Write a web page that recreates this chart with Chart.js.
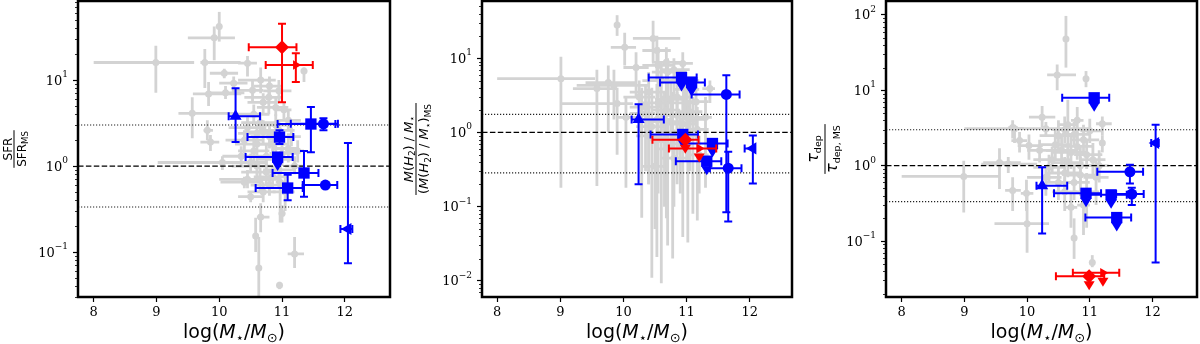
<!DOCTYPE html>
<html>
<head>
<meta charset="utf-8">
<script src="https://cdn.jsdelivr.net/npm/chart.js@4.4.1/dist/chart.umd.min.js"></script>
<style>
  body { margin: 0; background: #fff; }
  .panel { position: absolute; top: 0; width: 400px; height: 344px; }
</style>
</head>
<body>
<div class="panel" style="left:0"><canvas id="sfrChart" width="400" height="344"></canvas></div>
<div class="panel" style="left:400px"><canvas id="gasChart" width="400" height="344"></canvas></div>
<div class="panel" style="left:800px"><canvas id="tdepChart" width="400" height="344"></canvas></div>
<script>
// rows: [logM, value, logM low, logM high, value low, value high]
const xTicks = [8, 9, 10, 11, 12];

const sfrXLim = [7.75, 12.72];
const sfrYLim = [0.030, 83];
const sfrTicks = [0.1, 1, 10];
const sfrBands = [3, 1 / 3];
const sfrGray = [
  [10.0, 42, 10.0, 10.0, 28, 62], [9.92, 31, 9.5, 10.25, 17, 42], [8.99, 16, 8.0, 9.6, 7.1, 25],
  [9.77, 16, 9.7, 10.34, 8.1, 23], [10.08, 12, 9.85, 10.3, 10.5, 13.5], [9.83, 6.9, 9.58, 10.35, 5.0, 9.5],
  [9.57, 4.1, 9.35, 10.23, 2.1, 6.3], [9.81, 2.6, 9.75, 9.9, 2.0, 3.4], [9.86, 1.9, 9.7, 10.0, 1.5, 2.3],
  [10.05, 1.1, 9.02, 10.39, 0.9, 1.3], [10.66, 0.255, 10.6, 10.8, 0.17, 0.37], [10.58, 0.154, 10.55, 10.62, 0.1, 0.25],
  [10.63, 0.065, 10.6, 10.66, 0.02, 0.15], [10.96, 0.041, 10.96, 10.96, 0.037, 0.045], [11.2, 0.095, 11.09, 11.35, 0.065, 0.15],
  [11.35, 12.7, 11.3, 11.4, 9.5, 14], [11.03, 4.5, 10.9, 11.15, 3.5, 5.5], [11.0, 0.28, 10.95, 11.05, 0.22, 0.35],
  [10.45, 15.7, 10.3, 10.6, 11, 19], [10.23, 9.2, 10.0, 10.45, 7, 11], [10.53, 7.6, 10.2, 10.7, 5.5, 10],
  [10.1, 7.1, 9.85, 10.4, 6, 8.5], [10.79, 6.3, 10.4, 11.0, 4, 9], [10.66, 10, 10.3, 10.9, 7, 14],
  [10.5, 0.44, 10.3, 10.7, 0.38, 0.5], [10.4, 2.0, 10.1, 10.7, 1.4, 2.6], [10.55, 1.5, 10.3, 10.8, 1.1, 2.2],
  [10.7, 2.5, 10.4, 10.95, 1.8, 3.4], [10.85, 1.8, 10.55, 11.1, 1.2, 2.6], [10.6, 1.0, 10.2, 10.85, 0.75, 1.3],
  [10.75, 0.85, 10.35, 11.0, 0.6, 1.2], [10.9, 1.2, 10.6, 11.2, 0.8, 1.8], [10.45, 0.7, 10.0, 10.8, 0.55, 0.9],
  [10.8, 0.6, 10.5, 11.05, 0.45, 0.8], [11.1, 1.6, 10.85, 11.25, 1.1, 2.4], [11.15, 2.2, 10.95, 11.3, 1.7, 2.8],
  [10.95, 0.9, 10.7, 11.2, 0.55, 1.3], [10.35, 1.3, 10.05, 10.6, 1.0, 1.7], [11.05, 0.5, 10.85, 11.2, 0.3, 0.75],
  [10.65, 3.2, 10.35, 10.9, 2.4, 4.2], [10.9, 3.0, 10.6, 11.1, 2.2, 4.0], [11.2, 1.0, 11.05, 11.35, 0.8, 1.3],
  [10.4, 0.65, 10.02, 10.7, 0.55, 0.75], [10.97, 0.65, 10.9, 11.05, 0.22, 1.0], [10.7, 5.5, 10.45, 10.95, 4.0, 7.0],
  [10.95, 7.5, 10.7, 11.15, 5.5, 10], [10.55, 4.0, 10.2, 10.8, 3.0, 5.2], [11.1, 3.4, 10.9, 11.3, 2.6, 4.5],
  [10.6, 1.8, 10.25, 10.9, 1.3, 2.4], [10.75, 1.3, 10.5, 11.05, 0.95, 1.8], [10.5, 1.1, 10.15, 10.75, 0.85, 1.4],
  [10.85, 0.75, 10.55, 11.1, 0.55, 1.0], [10.65, 0.7, 10.4, 10.95, 0.5, 0.95], [11.0, 1.4, 10.8, 11.25, 1.0, 2.0],
  [10.8, 2.2, 10.5, 11.05, 1.6, 3.0], [10.45, 2.8, 10.15, 10.75, 2.1, 3.7], [10.95, 2.6, 10.7, 11.2, 2.0, 3.4],
  [10.7, 0.5, 10.45, 10.9, 0.38, 0.65], [10.6, 2.4, 10.3, 10.85, 1.9, 3.0], [11.25, 1.5, 11.05, 11.35, 1.1, 2.0],
  [10.9, 4.8, 10.6, 11.1, 3.8, 6.2], [10.8, 8.5, 10.55, 11.0, 6.5, 11]
];
const sfrBlue = [
  [10.26, 3.8, 10.15, 10.65, 1.9, 8.0], [10.96, 2.17, 10.45, 11.18, 1.8, 2.6], [10.93, 1.27, 10.42, 11.17, 1.27, 1.27],
  [11.46, 3.08, 10.93, 11.85, 1.45, 4.85], [11.66, 3.1, 11.14, 11.89, 2.6, 3.6], [11.35, 0.83, 10.85, 11.58, 0.44, 1.5],
  [11.09, 0.555, 10.58, 11.33, 0.40, 0.79], [11.69, 0.60, 11.33, 11.88, 0.6, 0.6], [12.05, 0.185, 11.93, 12.12, 0.074, 1.85]
];
const sfrBlueShape = ['triUp', 'square', 'square', 'square', 'circle', 'square', 'square', 'circle', 'triLeft'];
const sfrBlueLimit = [0, 0, 1, 0, 0, 0, 0, 0, 0];
const sfrRed = [[11.0, 24, 10.47, 11.23, 5.5, 45], [11.22, 15, 10.74, 11.49, 9.5, 20.5]];
const sfrRedShape = ['diamond', 'triRight'];
const sfrRedLimit = [0, 0];

const gasXLim = [7.76, 12.67];
const gasYLim = [0.00607, 59];
const gasTicks = [0.01, 0.1, 1, 10];
const gasBands = [1.75, 0.285];
const gasGray = [
  [9.01, 5.3, 8.0, 9.55, 0.18, 10.5], [9.9, 28, 9.9, 9.9, 20, 38], [10.02, 14, 9.8, 10.2, 8, 22],
  [10.47, 18.5, 10.15, 10.9, 9, 32], [10.53, 12.7, 10.3, 10.75, 5, 20], [10.68, 8.8, 10.45, 10.9, 3, 14],
  [10.2, 7.5, 10.0, 10.4, 3, 12], [10.94, 8.5, 10.8, 11.1, 4, 12], [9.58, 3.9, 9.2, 9.9, 0.19, 7],
  [9.76, 4.7, 9.4, 10.2, 1.0, 8], [11.37, 3.9, 11.25, 11.45, 2.5, 5], [9.9, 2.45, 9.0, 10.15, 0.5, 4],
  [9.85, 4.3, 9.26, 10.42, 1.5, 7], [10.45, 1.2, 10.2, 10.7, 0.011, 4], [10.6, 0.8, 10.4, 10.85, 0.0093, 3],
  [10.53, 1.5, 10.3, 10.8, 0.021, 4.5], [10.78, 1.0, 10.55, 11.0, 0.02, 3.5], [10.94, 1.3, 10.7, 11.15, 0.039, 3],
  [11.02, 0.9, 10.8, 11.2, 0.033, 2.5], [10.29, 1.8, 10.1, 10.5, 0.071, 4], [10.68, 2.0, 10.45, 10.9, 0.07, 5],
  [11.1, 1.5, 10.9, 11.3, 0.08, 3], [11.17, 1.1, 11.0, 11.35, 0.065, 2.2], [11.3, 1.6, 11.15, 11.4, 0.18, 3],
  [10.04, 1.6, 9.9, 10.3, 0.18, 3], [10.85, 3.0, 10.6, 11.1, 0.5, 6], [10.6, 5.0, 10.3, 10.9, 1, 9],
  [10.4, 3.5, 10.1, 10.7, 0.2, 6.5], [11.0, 2.5, 10.75, 11.2, 0.4, 4], [10.8, 0.45, 10.6, 11.05, 0.1, 1.0],
  [10.5, 0.35, 10.3, 10.7, 0.05, 0.9], [11.2, 0.5, 11.05, 11.35, 0.15, 0.9], [10.7, 6.5, 10.45, 11.0, 2, 10],
  [10.95, 5, 10.75, 11.2, 1.5, 7],
  [10.35, 2.2, 10.1, 10.6, 0.3, 4.5], [10.65, 1.4, 10.4, 10.9, 0.1, 3.5], [10.85, 1.7, 10.6, 11.1, 0.2, 3.5],
  [11.05, 1.9, 10.85, 11.25, 0.3, 3.5], [10.75, 2.8, 10.5, 11.0, 0.6, 5], [10.55, 2.5, 10.3, 10.8, 0.15, 5],
  [11.15, 2.6, 10.95, 11.35, 0.8, 4], [10.9, 0.7, 10.7, 11.1, 0.15, 1.8], [10.7, 0.6, 10.5, 10.95, 0.03, 1.5],
  [10.4, 0.9, 10.2, 10.6, 0.2, 2.5], [10.25, 3.0, 10.0, 10.5, 1.0, 5], [10.55, 8.0, 10.3, 10.8, 3, 14],
  [10.8, 7.0, 10.6, 11.05, 3, 10], [10.97, 3.8, 10.8, 11.2, 1.5, 6]
];
const gasBlue = [
  [10.92, 5.5, 10.4, 11.16, 5.5, 5.5], [11.08, 4.7, 10.58, 11.29, 4.7, 4.7], [11.63, 3.25, 11.08, 11.84, 0.084, 5.9],
  [10.24, 1.5, 10.13, 10.64, 0.2, 2.4], [10.94, 0.94, 10.43, 11.18, 0.94, 0.94], [11.41, 0.71, 10.97, 11.65, 0.71, 0.71],
  [11.32, 0.41, 10.83, 11.55, 0.41, 0.41], [11.66, 0.33, 11.37, 11.87, 0.063, 0.55], [12.05, 0.61, 11.92, 12.08, 0.205, 0.91]
];
const gasBlueShape = ['square', 'square', 'circle', 'triUp', 'square', 'square', 'square', 'circle', 'triLeft'];
const gasBlueLimit = [1, 1, 0, 0, 1, 1, 1, 0, 0];
const gasRed = [[10.98, 0.8, 10.46, 11.19, 0.8, 0.8], [11.2, 0.61, 10.72, 11.47, 0.61, 0.61]];
const gasRedShape = ['diamond', 'triRight'];
const gasRedLimit = [1, 1];

const tdepXLim = [7.75, 12.71];
const tdepYLim = [0.0181, 153];
const tdepTicks = [0.1, 1, 10, 100];
const tdepBands = [3, 1 / 3];
const tdepGray = [
  [10.62, 48, 10.62, 10.62, 20, 97], [10.48, 16, 10.32, 10.78, 10, 22], [10.94, 14.2, 10.94, 10.94, 11, 18],
  [10.24, 4.4, 10.03, 10.45, 3.2, 6.2], [8.99, 0.72, 8.0, 9.56, 0.24, 1.16], [9.56, 1.1, 9.3, 9.9, 0.49, 1.7],
  [10.0, 0.17, 9.48, 10.35, 0.07, 0.45], [9.77, 0.47, 9.65, 9.9, 0.25, 0.7], [9.8, 3.1, 9.7, 9.95, 2.0, 3.5],
  [10.03, 1.85, 9.85, 10.25, 1.2, 2.6], [10.75, 0.11, 10.75, 10.75, 0.058, 0.2], [11.04, 0.052, 11.04, 11.04, 0.045, 0.065],
  [11.2, 2.0, 11.2, 11.2, 1.5, 2.5], [11.2, 3.6, 11.1, 11.35, 2.5, 4.5], [10.7, 0.28, 10.6, 10.8, 0.15, 0.45],
  [10.5, 2.5, 10.2, 10.8, 1.5, 4], [10.7, 1.5, 10.4, 10.95, 0.9, 2.5], [10.85, 1.0, 10.6, 11.1, 0.6, 1.8],
  [10.6, 0.8, 10.3, 10.85, 0.5, 1.3], [10.9, 2.2, 10.7, 11.15, 1.4, 3.5], [11.05, 1.2, 10.85, 11.25, 0.7, 2.0],
  [10.4, 1.2, 10.1, 10.7, 0.8, 1.8], [10.75, 0.6, 10.5, 11.0, 0.35, 1.0], [11.1, 0.7, 10.9, 11.3, 0.3, 1.2],
  [10.3, 0.7, 10.0, 10.55, 0.4, 1.0], [10.6, 3.0, 10.4, 10.85, 2, 4.5], [10.95, 0.45, 10.75, 11.15, 0.15, 0.8],
  [9.7, 1.05, 9.27, 10.16, 0.8, 1.3], [9.99, 0.43, 9.9, 10.1, 0.25, 0.65], [9.77, 3.2, 9.7, 9.85, 2.3, 4.0],
  [9.88, 2.15, 9.75, 10.0, 1.5, 2.8], [10.3, 3.1, 9.0, 11.0, 2.5, 3.8], [10.65, 3.5, 10.5, 10.8, 1.5, 7.5],
  [10.8, 4.0, 10.7, 10.9, 2, 6],
  [10.55, 1.6, 10.3, 10.8, 1.0, 2.4], [10.8, 1.8, 10.55, 11.05, 1.2, 2.8], [10.65, 1.1, 10.4, 10.9, 0.7, 1.7],
  [10.95, 1.4, 10.75, 11.2, 0.9, 2.2], [10.5, 0.6, 10.3, 10.75, 0.35, 1.0], [10.85, 0.75, 10.6, 11.1, 0.4, 1.3],
  [11.15, 1.0, 10.95, 11.3, 0.6, 1.6], [10.45, 1.9, 10.2, 10.7, 1.2, 3.0], [10.75, 2.6, 10.55, 11.0, 1.8, 3.8],
  [11.0, 2.9, 10.85, 11.2, 2.0, 4.2], [10.6, 0.45, 10.4, 10.8, 0.25, 0.7], [10.9, 0.3, 10.8, 11.0, 0.12, 0.5],
  [10.2, 1.6, 10.0, 10.45, 1.1, 2.2], [10.35, 0.95, 10.1, 10.6, 0.6, 1.4]
];
const tdepBlue = [
  [11.07, 7.95, 10.56, 11.31, 7.95, 7.95], [12.05, 2.0, 11.98, 12.1, 0.052, 3.5], [11.64, 0.83, 11.12, 11.85, 0.58, 1.03],
  [10.24, 0.54, 10.15, 10.64, 0.126, 0.95], [10.94, 0.43, 10.43, 11.18, 0.43, 0.43], [11.34, 0.41, 10.94, 11.59, 0.41, 0.41],
  [11.67, 0.42, 11.42, 11.86, 0.30, 0.51], [11.43, 0.205, 10.93, 11.66, 0.205, 0.205]
];
const tdepBlueShape = ['square', 'triLeft', 'circle', 'triUp', 'square', 'square', 'circle', 'square'];
const tdepBlueLimit = [1, 0, 0, 0, 1, 1, 0, 1];
const tdepRed = [[10.99, 0.034, 10.46, 11.23, 0.034, 0.034], [11.21, 0.038, 10.73, 11.47, 0.038, 0.038]];
const tdepRedShape = ['diamond', 'triRight'];
const tdepRedLimit = [1, 1];

const GRAY = '#d3d3d3', BLUE = '#0000ff', RED = '#ff0000';
const SANS = '"DejaVu Sans"';
const SERIF = '"DejaVu Serif"';

const markerLook = {
  square:   { style: 'rect', rot: 0, r: 8 },
  circle:   { style: 'circle', rot: 0, r: 5.5 },
  triUp:    { style: 'triangle', rot: 0, r: 7 },
  triLeft:  { style: 'triangle', rot: -90, r: 7 },
  triRight: { style: 'triangle', rot: 90, r: 5.5 },
  diamond:  { style: 'rectRot', rot: 0, r: 7 }
};

const fontOf = r => `${r.it ? 'italic ' : ''}${r.s}px ${SANS}`;
function runWidth(ctx, runs) {
  return runs.reduce((w, r) => { ctx.font = fontOf(r); return w + ctx.measureText(r.t).width; }, 0);
}
function drawRuns(ctx, runs, cx, by) {
  let x = cx - runWidth(ctx, runs) / 2;
  runs.forEach(r => {
    ctx.font = fontOf(r);
    ctx.fillText(r.t, x, by + (r.dy || 0));
    x += ctx.measureText(r.t).width;
  });
}

const xTitle = [
  { t: 'log(', s: 19 }, { t: 'M', s: 19, it: true }, { t: '\u22c6', s: 13, dy: 4 }, { t: '/', s: 19 },
  { t: 'M', s: 19, it: true }, { t: '\u2299', s: 13, dy: 4 }, { t: ')', s: 19 }
];

function pointSet(rows, shapes, limits, color, order, barWidth, caps) {
  const look = shapes.map(s => markerLook[s]);
  return {
    data: rows.map(r => ({ x: r[0], y: r[1] })),
    errs: rows, limits, color, barWidth, caps,
    pointStyle: look.map(l => l.style),
    pointRotation: look.map(l => l.rot),
    pointRadius: look.map(l => l.r),
    backgroundColor: color, borderColor: color, borderWidth: 0,
    order
  };
}

function refLine(xLim, yv, dash, color, width) {
  return {
    type: 'line',
    data: [{ x: xLim[0], y: yv }, { x: xLim[1], y: yv }],
    borderColor: color, borderWidth: width, borderDash: dash,
    pointRadius: 0, fill: false, order: 2
  };
}

const errorBars = {
  id: 'errorBars',
  beforeDatasetDraw(chart, args) {
    const ds = chart.data.datasets[args.index];
    if (!ds.errs) return;
    const { ctx, chartArea: a, scales: { x, y } } = chart;
    ctx.save();
    ctx.beginPath();
    ctx.rect(a.left, a.top, a.right - a.left, a.bottom - a.top);
    ctx.clip();
    ctx.strokeStyle = ds.color;
    ctx.lineWidth = ds.barWidth;
    ds.errs.forEach(r => {
      const px = x.getPixelForValue(r[0]), py = y.getPixelForValue(r[1]);
      const x0 = x.getPixelForValue(r[2]), x1 = x.getPixelForValue(r[3]);
      const y0 = y.getPixelForValue(r[4]), y1 = y.getPixelForValue(r[5]);
      ctx.beginPath();
      if (r[3] > r[2]) {
        ctx.moveTo(x0, py); ctx.lineTo(x1, py);
        if (ds.caps) {
          ctx.moveTo(x0, py - 4); ctx.lineTo(x0, py + 4);
          ctx.moveTo(x1, py - 4); ctx.lineTo(x1, py + 4);
        }
      }
      if (r[5] > r[4]) {
        ctx.moveTo(px, y0); ctx.lineTo(px, y1);
        if (ds.caps) {
          ctx.moveTo(px - 4, y0); ctx.lineTo(px + 4, y0);
          ctx.moveTo(px - 4, y1); ctx.lineTo(px + 4, y1);
        }
      }
      ctx.stroke();
    });
    ctx.restore();
  },
  afterDatasetDraw(chart, args) {
    const ds = chart.data.datasets[args.index];
    if (!ds.limits) return;
    const { ctx, scales: { x, y } } = chart;
    ctx.save();
    ctx.fillStyle = ds.color;
    ds.errs.forEach((r, i) => {
      if (!ds.limits[i]) return;
      const px = x.getPixelForValue(r[0]), py = y.getPixelForValue(r[1]);
      ctx.beginPath();
      ctx.moveTo(px - 5.5, py + 5);
      ctx.lineTo(px + 5.5, py + 5);
      ctx.lineTo(px, py + 14);
      ctx.closePath();
      ctx.fill();
    });
    ctx.restore();
  }
};

const frameAndText = {
  id: 'frameAndText',
  afterDraw(chart) {
    const { ctx, chartArea: a, scales: { y } } = chart;
    const p = chart.options.plugins.frameAndText;
    ctx.save();
    // minor log ticks
    ctx.strokeStyle = '#000';
    ctx.lineWidth = 0.8;
    ctx.beginPath();
    for (let d = Math.floor(Math.log10(y.min)); d <= Math.ceil(Math.log10(y.max)); d++) {
      for (let k = 2; k <= 9; k++) {
        const v = k * Math.pow(10, d);
        if (v < y.min || v > y.max) continue;
        const py = Math.round(y.getPixelForValue(v)) + 0.5;
        ctx.moveTo(a.left - 3, py); ctx.lineTo(a.left, py);
      }
    }
    ctx.stroke();
    // frame
    ctx.lineWidth = 2.5;
    ctx.strokeRect(a.left, a.top, a.right - a.left, a.bottom - a.top);
    ctx.fillStyle = '#000';
    ctx.textBaseline = 'alphabetic';
    ctx.textAlign = 'left';
    // decade labels 10^n
    p.yTicks.forEach(v => {
      const py = y.getPixelForValue(v);
      const e = Math.round(Math.log10(v));
      const exp = e < 0 ? '\u2212' + (-e) : String(e);
      ctx.font = `9px ${SERIF}`;
      const w2 = ctx.measureText(exp).width;
      ctx.font = `13px ${SERIF}`;
      const w1 = ctx.measureText('10').width;
      const xr = a.left - 10;
      ctx.fillText('10', xr - w2 - w1, py + 4.5);
      ctx.font = `9px ${SERIF}`;
      ctx.fillText(exp, xr - w2, py - 3);
    });
    // x title
    drawRuns(ctx, xTitle, (a.left + a.right) / 2, 338);
    // y title as a fraction
    ctx.translate(p.fracX, (a.top + a.bottom) / 2);
    ctx.rotate(-Math.PI / 2);
    drawRuns(ctx, p.num, 0, p.numBase);
    drawRuns(ctx, p.den, 0, p.denBase);
    const w = Math.max(runWidth(ctx, p.num), runWidth(ctx, p.den)) + 2;
    ctx.fillRect(-w / 2, -0.5, w, 1);
    ctx.restore();
  }
};

function makePanel(cfg) {
  const datasets = [
    pointSet(cfg.red, cfg.redShape, cfg.redLimit, RED, 0, 2, true),
    pointSet(cfg.blue, cfg.blueShape, cfg.blueLimit, BLUE, 1, 2, true),
    refLine(cfg.xLim, 1, [5.5, 2.4], '#000', 1.3),
    refLine(cfg.xLim, cfg.bands[0], [1.2, 1.8], '#222', 1.1),
    refLine(cfg.xLim, cfg.bands[1], [1.2, 1.8], '#222', 1.1),
    Object.assign(pointSet(cfg.gray, cfg.gray.map(() => 'circle'), null, GRAY, 3, 2.8, false),
      { pointRadius: 3.5 })
  ];
  new Chart(document.getElementById(cfg.id), {
    type: 'scatter',
    data: { datasets },
    options: {
      responsive: false,
      animation: false,
      devicePixelRatio: 1,
      events: [],
      layout: { autoPadding: false, padding: { top: 1, right: cfg.right, left: 0, bottom: 0 } },
      plugins: {
        legend: { display: false },
        tooltip: { enabled: false },
        frameAndText: { fracX: cfg.fracX, num: cfg.num, den: cfg.den, numBase: cfg.numBase,
                        denBase: cfg.denBase, yTicks: cfg.yTicks }
      },
      scales: {
        x: {
          type: 'linear', min: cfg.xLim[0], max: cfg.xLim[1],
          afterBuildTicks: s => { s.ticks = xTicks.map(v => ({ value: v })); },
          afterFit: s => { s.height = 47; },
          grid: { drawOnChartArea: false, drawTicks: true, tickLength: 5, tickWidth: 1.2, tickColor: '#000' },
          border: { display: false },
          ticks: { autoSkip: false, maxRotation: 0, padding: 3, color: '#000', font: { family: SERIF, size: 13 } }
        },
        y: {
          type: 'logarithmic', min: cfg.yLim[0], max: cfg.yLim[1],
          afterBuildTicks: s => { s.ticks = cfg.yTicks.map(v => ({ value: v })); },
          afterFit: s => { s.width = cfg.left; },
          grid: { drawOnChartArea: false, drawTicks: true, tickLength: 5, tickWidth: 1.2, tickColor: '#000' },
          border: { display: false },
          ticks: { display: false }
        }
      }
    },
    plugins: [errorBars, frameAndText]
  });
}

makePanel({
  id: 'sfrChart', xLim: sfrXLim, yLim: sfrYLim, yTicks: sfrTicks, bands: sfrBands,
  gray: sfrGray, blue: sfrBlue, blueShape: sfrBlueShape, blueLimit: sfrBlueLimit,
  red: sfrRed, redShape: sfrRedShape, redLimit: sfrRedLimit,
  left: 78, right: 10, fracX: 14, numBase: -2.5, denBase: 11.5,
  num: [{ t: 'SFR', s: 12 }],
  den: [{ t: 'SFR', s: 12 }, { t: 'MS', s: 8.5, dy: 2.5 }]
});

makePanel({
  id: 'gasChart', xLim: gasXLim, yLim: gasYLim, yTicks: gasTicks, bands: gasBands,
  gray: gasGray, blue: gasBlue, blueShape: gasBlueShape, blueLimit: gasBlueLimit,
  red: gasRed, redShape: gasRedShape, redLimit: gasRedLimit,
  left: 82, right: 8, fracX: 16, numBase: -3.5, denBase: 12,
  num: [{ t: 'M', s: 13, it: true }, { t: '(', s: 13 }, { t: 'H', s: 13, it: true }, { t: '2', s: 9, dy: 2.5 },
        { t: ') / ', s: 13 }, { t: 'M', s: 13, it: true }, { t: '\u22c6', s: 9, dy: 2.5 }],
  den: [{ t: '(', s: 13 }, { t: 'M', s: 13, it: true }, { t: '(', s: 13 }, { t: 'H', s: 13, it: true },
        { t: '2', s: 9, dy: 2.5 }, { t: ') / ', s: 13 }, { t: 'M', s: 13, it: true }, { t: '\u22c6', s: 9, dy: 2.5 },
        { t: ')', s: 13 }, { t: 'MS', s: 9, dy: 2.5 }]
});

makePanel({
  id: 'tdepChart', xLim: tdepXLim, yLim: tdepYLim, yTicks: tdepTicks, bands: tdepBands,
  gray: tdepGray, blue: tdepBlue, blueShape: tdepBlueShape, blueLimit: tdepBlueLimit,
  red: tdepRed, redShape: tdepRedShape, redLimit: tdepRedLimit,
  left: 86, right: 3, fracX: 25, numBase: -7, denBase: 12,
  num: [{ t: '\u03c4', s: 16, it: true }, { t: 'dep', s: 9.5, dy: 2.5 }],
  den: [{ t: '\u03c4', s: 16, it: true }, { t: 'dep, MS', s: 9.5, dy: 2.5 }]
});
</script>
</body>
</html>
